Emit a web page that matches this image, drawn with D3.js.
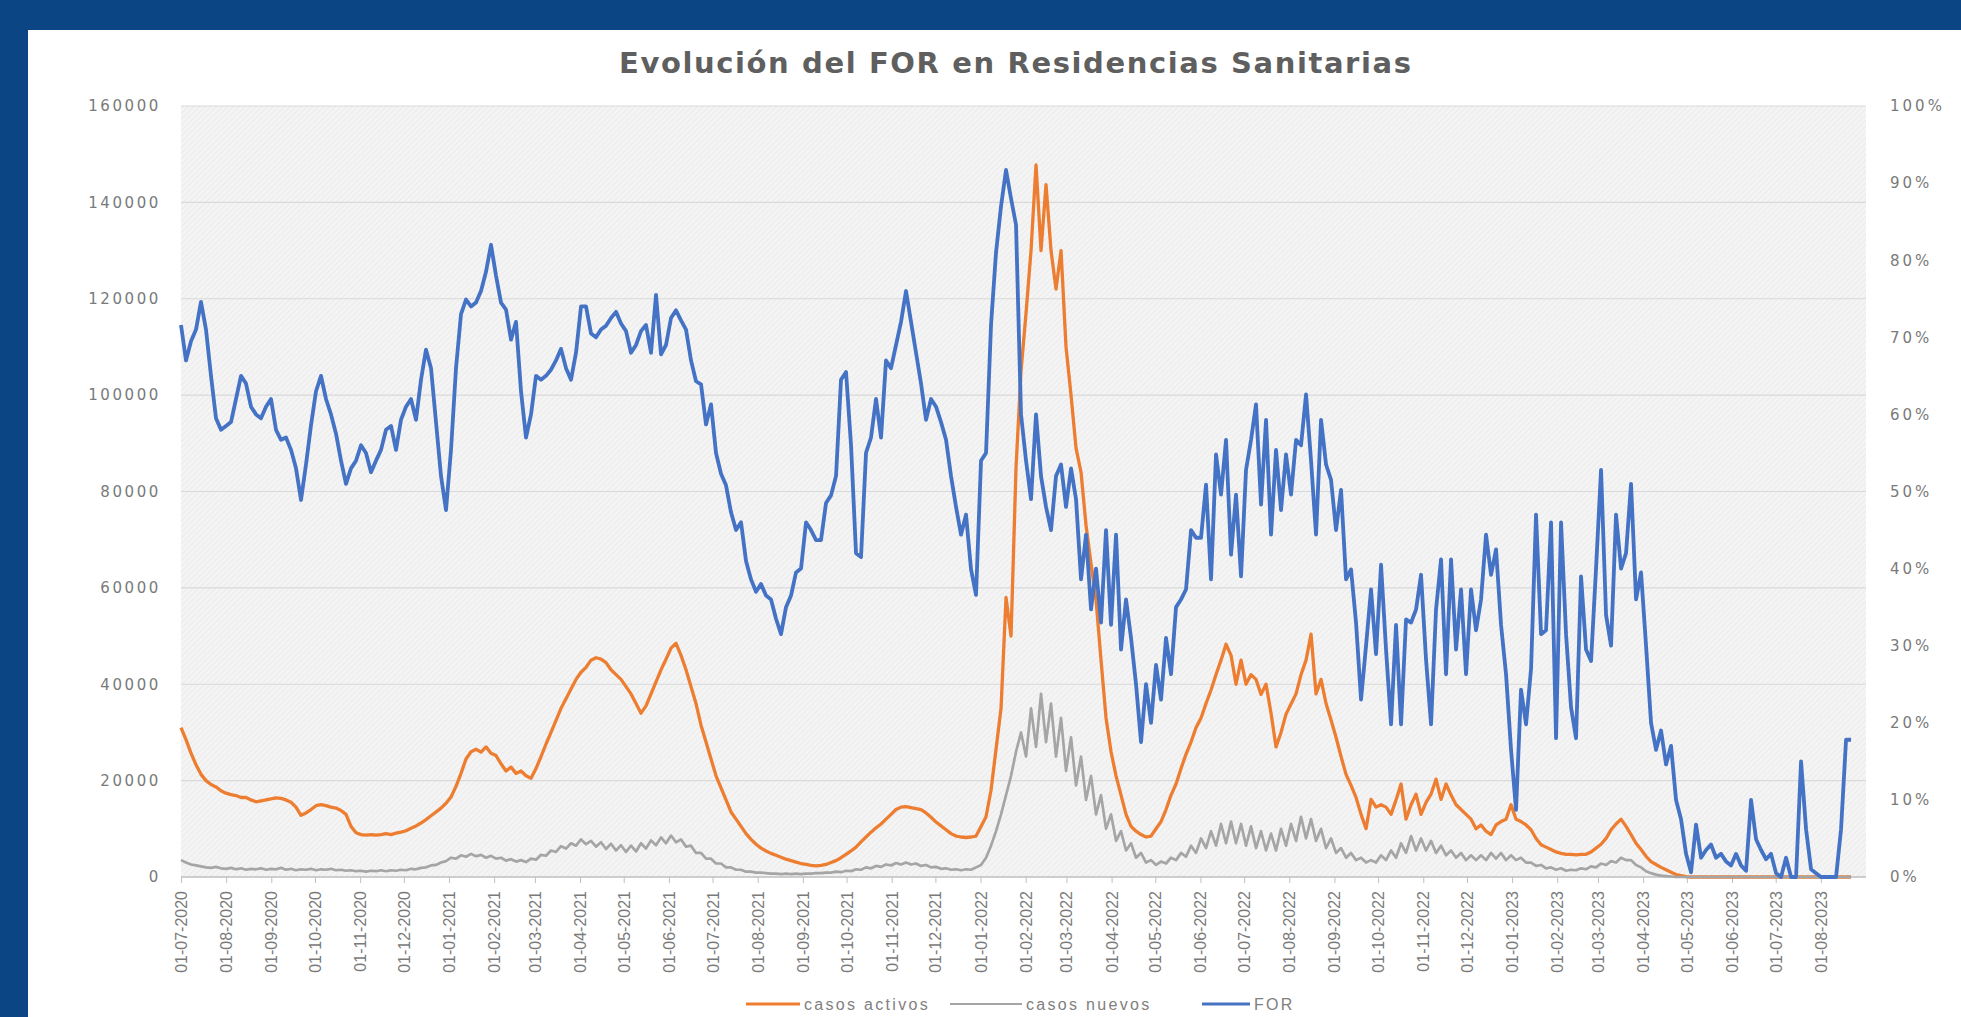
<!DOCTYPE html>
<html><head><meta charset="utf-8">
<script src="https://cdn.jsdelivr.net/npm/d3@7"></script>
<style>html,body{margin:0;padding:0;background:#0b4584;overflow:hidden} svg{display:block}</style>
</head><body>
<svg id="chart" width="1961" height="1017"></svg>
<script>
// ---------------- DATA ----------------
const chartTitle = "Evolución del FOR en Residencias Sanitarias";
const seriesNames = ["casos activos", "casos nuevos", "FOR"];
const seriesColors = ["#ed7d31", "#a5a5a5", "#4472c4"];

// x-axis categories (tick labels, one per month)
const monthLabels = ["01-07-2020","01-08-2020","01-09-2020","01-10-2020","01-11-2020","01-12-2020",
  "01-01-2021","01-02-2021","01-03-2021","01-04-2021","01-05-2021","01-06-2021","01-07-2021","01-08-2021",
  "01-09-2021","01-10-2021","01-11-2021","01-12-2021","01-01-2022","01-02-2022","01-03-2022","01-04-2022",
  "01-05-2022","01-06-2022","01-07-2022","01-08-2022","01-09-2022","01-10-2022","01-11-2022","01-12-2022",
  "01-01-2023","01-02-2023","01-03-2023","01-04-2023","01-05-2023","01-06-2023","01-07-2023","01-08-2023"];
const leftTickValues = [0, 20000, 40000, 60000, 80000, 100000, 120000, 140000, 160000];
const rightTickValues = [0, 0.1, 0.2, 0.3, 0.4, 0.5, 0.6, 0.7, 0.8, 0.9, 1.0];

// samples, every ~3.4 days starting 01-07-2020
const sampleStart = "01-07-2020";
const sampleStepHours = 82.4;

// casos activos (thousands)
const casosActivosMiles = [
  31,28.5,25.7,23.3,21.3,20,19.2,18.7,17.9,17.4,
  17.1,16.9,16.5,16.5,16,15.6,15.8,16,16.2,16.4,
  16.3,16,15.5,14.5,12.8,13.3,14,14.8,15,14.8,
  14.5,14.3,13.8,13,10.5,9.2,8.8,8.7,8.8,8.7,
  8.8,9,8.8,9.1,9.3,9.6,10.1,10.6,11.2,11.9,
  12.7,13.5,14.3,15.3,16.6,18.8,21.5,24.5,26,26.5,
  25.9,27,25.7,25.2,23.5,22,22.8,21.5,22,21,
  20.5,22.5,25,27.6,30,32.5,35,37,39,41,
  42.5,43.5,45,45.5,45.2,44.5,43,42,41,39.5,
  38,36,34,35.5,38,40.5,43,45.2,47.5,48.5,
  46,43,39.5,36,31.5,28,24.5,21,18.5,16,
  13.5,12,10.5,9,7.8,6.8,6,5.4,4.9,4.5,
  4.1,3.7,3.4,3.1,2.8,2.6,2.4,2.3,2.4,2.6,
  3,3.4,4,4.7,5.4,6.2,7.3,8.3,9.3,10.2,
  11,12,13,14,14.5,14.6,14.4,14.2,14,13.3,
  12.4,11.4,10.6,9.8,9,8.5,8.3,8.2,8.3,8.5,
  10.5,12.5,18,26.5,35,58,50,85,105,117,
  130,147.8,130,143.7,130,122,130,110,100,89,
  84,73,65,57.5,45,33,26,21,17,13,
  10.5,9.5,8.8,8.3,8.5,10,11.5,14,17,19.3,
  22.5,25.5,28,31,33,36,38.8,42,45,48.3,
  46,40,45,40,42,41,37.9,40,34,27,
  30,33.8,35.9,38,42,45,50.4,38,41,36,
  32.6,29,25,21.3,19,16.5,13,10,16.1,14.5,
  15,14.5,13,16,19.3,12,15,17.2,13,15.5,
  17.2,20.3,16.1,19.3,17,15,14,13,12,10,
  10.8,9.5,8.8,10.8,11.5,12,15,12,11.5,10.8,
  9.8,8,6.7,6.2,5.7,5.2,4.9,4.7,4.7,4.6,
  4.7,4.7,5.2,6,6.8,8,9.8,11,12,10.5,
  8.8,7,5.7,4.3,3.2,2.6,2,1.5,1,0.5,
  0.3,0.1,0,0,0,0,0,0,0,0,
  0,0,0,0,0,0,0,0,0,0,
  0,0,0,0,0,0,0,0,0,0,
  0,0,0,0,0
];

// casos nuevos (thousands)
const casosNuevosMiles = [
  3.5,3.0,2.6,2.4,2.2,2.0,1.9,2.1,1.8,1.7,
  1.9,1.6,1.8,1.5,1.7,1.6,1.8,1.5,1.7,1.6,
  1.9,1.5,1.7,1.4,1.6,1.5,1.7,1.4,1.6,1.5,
  1.7,1.4,1.5,1.3,1.4,1.2,1.3,1.1,1.3,1.2,
  1.4,1.2,1.4,1.3,1.5,1.4,1.7,1.6,1.9,2.0,
  2.4,2.5,3.0,3.3,4.0,3.8,4.5,4.2,4.8,4.3,
  4.6,4.0,4.4,3.8,4.0,3.4,3.7,3.2,3.5,3.1,
  3.8,3.6,4.6,4.4,5.5,5.2,6.4,5.9,7.0,6.5,
  7.8,6.8,7.5,6.3,7.2,5.8,6.9,5.5,6.6,5.2,
  6.5,5.3,7.0,5.9,7.6,6.6,8.2,7.0,8.6,7.2,
  7.8,6.3,6.5,5.0,5.0,3.8,3.8,2.8,2.8,2.0,
  2.0,1.5,1.5,1.1,1.1,0.9,0.9,0.8,0.7,0.7,
  0.6,0.7,0.6,0.7,0.6,0.7,0.7,0.8,0.8,0.9,
  0.9,1.1,1.0,1.3,1.2,1.6,1.5,2.0,1.8,2.3,
  2.1,2.6,2.4,2.9,2.6,3.0,2.6,2.8,2.3,2.5,
  2.0,2.1,1.7,1.8,1.5,1.6,1.4,1.6,1.5,2.0,
  2.5,4.0,6.5,9.5,13,17,21,26,30,25,
  35,27,38,28,36,25,33,22,29,19,
  25,16,21,13,17,10,13,7.5,9.5,5.5,
  7,4,5,3,3.5,2.5,3.2,2.8,4.0,3.5,
  5.0,4.2,6.5,5.0,8.0,6.0,9.5,6.5,11,7.0,
  11.5,7.0,11,6.5,10.5,6.0,9.5,5.5,9,5.5,
  10,6.5,11,7.5,12.5,8,12,7.5,10,6,
  8,5,6,4,5,3.5,4,3,3.5,3,
  4.5,3.5,5.5,4,7,5,8.5,5.5,8,5.5,
  7.5,5,6.5,4.5,5.5,4,5,3.5,4.5,3.5,
  4.5,3.5,5,3.8,5,3.5,4.5,3.5,4,3,
  3,2.3,2.5,1.8,2,1.5,1.8,1.3,1.5,1.4,
  1.8,1.6,2.2,2,2.8,2.5,3.3,3,4,3.5,
  3.5,2.5,2,1.2,0.8,0.5,0.3,0.2,0.1,0,
  0,0,0,0,0,0,0,0,0,0,
  0,0,0,0,0,0,0,0,0,0,
  0,0,0,0,0,0,0,0,0,0,
  0,0,0,0,0
];

// FOR (percent)
const forPct = [
  71.6,67,69.5,71,74.6,71,65,59.5,58,58.5,
  59,62,65,64,61,60,59.5,61,62,58,
  56.7,57,55.4,53,48.9,53.5,58.6,63,65,62,
  60,57.5,54,51,53,54,56,55,52.5,54,
  55.4,58,58.5,55.4,59.3,61,62,59.3,64.5,68.4,
  66,59,52,47.6,55.4,66,73,74.9,74,74.5,
  76,78.5,82,78,74.5,73.6,69.7,72,63,57,
  60,65,64.5,65,65.8,67,68.5,66,64.5,68,
  74,74,70.5,70,71,71.5,72.5,73.3,71.8,70.8,
  68,69,70.8,71.6,68,75.5,67.8,69,72.5,73.5,
  72.2,71,67,64.3,63.9,58.7,61.3,55,52.3,50.8,
  47.3,45,46,41,38.6,37,38,36.5,36,33.5,
  31.5,35,36.5,39.5,40,46,45,43.7,43.7,48.5,
  49.5,52,64.5,65.5,56,42,41.5,55,57,62,
  57,67,66,69,72,76,72,68,64,59.3,
  62,61,59,56.7,52,48,44.4,47,39.9,36.6,
  54,55,71.6,81,87,91.7,88,84.6,60,54,
  49,60,52,48,45,52,53.5,48,53,49,
  38.6,44.4,34.7,40,33,45,32.7,44.4,29.5,36,
  31,25,17.5,25,20,27.5,23,31,26.3,35,
  36,37.3,45,44,44,50.9,38.6,54.8,49.6,56.7,
  41.8,49.6,39,52.8,56.7,61.3,48.3,59.3,44.4,55.4,
  47.6,54.8,49.6,56.7,56,62.6,54,44.4,59.3,53.5,
  51.5,45,50.2,38.6,39.9,33,23,30,37.3,28.9,
  40.5,29.5,19.8,32.7,19.8,33.4,33,34.7,39.2,28.2,
  19.8,34.7,41.2,26.3,41.2,29.5,37.3,26.3,37.3,32,
  36,44.4,39.2,42.5,32.7,26.3,16.5,8.7,24.3,19.8,
  27,47,31.5,32,46,18,46,31.5,22,18,
  39,29.5,28,40,52.8,34,30,47,40,42,
  51,36,39.5,30,20,16.5,19,14.6,17,10,
  7.5,3,0.6,6.8,2.5,3.5,4.2,2.5,3,2,
  1.5,3,1.5,0.8,10,4.9,3.5,2.3,3,0.5,
  0,2.5,0,0,15,6.2,1,0.5,0,0,
  0,0,6.2,17.8,17.8
];

// ---------------- CHART ----------------
const W = 1961, H = 1017;
const M = {left: 181, right: 1866, top: 106, bottom: 877};
const parseDMY = d3.utcParse("%d-%m-%Y");
const fmtDMY = d3.utcFormat("%d-%m-%Y");

const t0 = parseDMY(sampleStart);
const stepMs = sampleStepHours * 3600 * 1000;
const dateAt = i => new Date(t0.getTime() + i * stepMs);

const x = d3.scaleUtc()
  .domain([parseDMY("01-07-2020"), parseDMY("01-09-2023")])
  .range([M.left, M.right]);
const yL = d3.scaleLinear().domain([0, 160000]).range([M.bottom, M.top]);
const yR = d3.scaleLinear().domain([0, 1]).range([M.bottom, M.top]);

const svg = d3.select("#chart");
const defs = svg.append("defs");
const pat = defs.append("pattern").attr("id", "hatch")
  .attr("width", 4).attr("height", 4).attr("patternUnits", "userSpaceOnUse")
  .attr("patternTransform", "rotate(45)");
pat.append("rect").attr("width", 4).attr("height", 4).attr("fill", "#f4f4f4");
pat.append("line").attr("x1", 0).attr("y1", 0).attr("x2", 0).attr("y2", 4)
  .attr("stroke", "#e8e8e8").attr("stroke-width", 1.4);

// frame
svg.append("rect").attr("width", W).attr("height", H).attr("fill", "#0b4584");
svg.append("rect").attr("x", 28).attr("y", 30).attr("width", W - 28).attr("height", H - 30).attr("fill", "#ffffff");

// plot background
svg.append("rect").attr("x", M.left).attr("y", M.top)
  .attr("width", M.right - M.left).attr("height", M.bottom - M.top)
  .attr("fill", "url(#hatch)");

// title
svg.append("text").attr("x", 1015).attr("y", 73)
  .attr("text-anchor", "middle")
  .attr("font-family", "'DejaVu Sans', sans-serif").attr("font-weight", "bold")
  .attr("font-size", 29).attr("fill", "#5f5f5f")
  .attr("textLength", 792).attr("lengthAdjust", "spacing")
  .text(chartTitle);

// gridlines (left axis)
svg.append("g").selectAll("line").data(leftTickValues.filter(v => v > 0)).join("line")
  .attr("x1", M.left).attr("x2", M.right)
  .attr("y1", d => yL(d)).attr("y2", d => yL(d))
  .attr("stroke", "#d9d9d9").attr("stroke-width", 1.2);

// left axis
const gL = svg.append("g").attr("transform", `translate(${M.left - 20},0)`)
  .call(d3.axisLeft(yL).tickValues(leftTickValues).tickFormat(d3.format("d")).tickSize(0).tickPadding(0));
gL.select(".domain").remove();
gL.selectAll("text").attr("font-family", "'DejaVu Sans', sans-serif").attr("font-size", 15)
  .attr("letter-spacing", 2.6).attr("fill", "#7a7a7a");

// right axis
const gR = svg.append("g").attr("transform", `translate(${M.right + 24},0)`)
  .call(d3.axisRight(yR).tickValues(rightTickValues).tickFormat(d3.format(".0%")).tickSize(0).tickPadding(0));
gR.select(".domain").remove();
gR.selectAll("text").attr("font-family", "'DejaVu Sans', sans-serif").attr("font-size", 15)
  .attr("letter-spacing", 3).attr("fill", "#7a7a7a");

// x axis
const monthDates = monthLabels.map(parseDMY);
const gX = svg.append("g").attr("transform", `translate(0,${M.bottom})`)
  .call(d3.axisBottom(x).tickValues(monthDates).tickFormat(fmtDMY).tickSize(6).tickPadding(0));
gX.select(".domain").attr("stroke", "#bfbfbf").attr("stroke-width", 1.3)
  .attr("d", `M${M.left},0H${M.right}`);
gX.selectAll(".tick line").attr("stroke", "#bfbfbf");
gX.selectAll("text")
  .attr("font-family", "'Liberation Sans', Arial, sans-serif").attr("font-size", 16)
  .attr("fill", "#7a7a7a")
  .attr("text-anchor", "end")
  .attr("dy", null).attr("y", 0)
  .attr("dominant-baseline", "central")
  .attr("transform", "translate(0,14) rotate(-90)");

// series lines
const n = Math.min(casosActivosMiles.length, casosNuevosMiles.length, forPct.length);
const idx = d3.range(n);
svg.append("path")
  .attr("d", d3.line().x(i => x(dateAt(i))).y(i => yL(casosActivosMiles[i] * 1000))(idx))
  .attr("fill", "none").attr("stroke", seriesColors[0]).attr("stroke-width", 3.3).attr("stroke-linejoin", "round");
svg.append("path")
  .attr("d", d3.line().x(i => x(dateAt(i))).y(i => yL(casosNuevosMiles[i] * 1000))(idx))
  .attr("fill", "none").attr("stroke", seriesColors[1]).attr("stroke-width", 2.7).attr("stroke-linejoin", "round");
svg.append("path")
  .attr("d", d3.line().x(i => x(dateAt(i))).y(i => yR(forPct[i] / 100))(idx))
  .attr("fill", "none").attr("stroke", seriesColors[2]).attr("stroke-width", 3.8).attr("stroke-linejoin", "round");

// legend
const legendItems = [
  {name: seriesNames[0], color: seriesColors[0], x0: 746, x1: 800, w: 3},
  {name: seriesNames[1], color: seriesColors[1], x0: 950, x1: 1022, w: 2},
  {name: seriesNames[2], color: seriesColors[2], x0: 1202, x1: 1250, w: 3}
];
const lg = svg.append("g");
lg.selectAll("line").data(legendItems).join("line")
  .attr("x1", d => d.x0).attr("x2", d => d.x1).attr("y1", 1004).attr("y2", 1004)
  .attr("stroke", d => d.color).attr("stroke-width", d => d.w);
lg.selectAll("text").data(legendItems).join("text")
  .attr("x", d => d.x1 + 4).attr("y", 1004).attr("dominant-baseline", "central")
  .attr("font-family", "'Liberation Sans', Arial, sans-serif").attr("font-size", 16)
  .attr("letter-spacing", 2.3).attr("fill", "#808080")
  .text(d => d.name);
</script>
</body></html>
